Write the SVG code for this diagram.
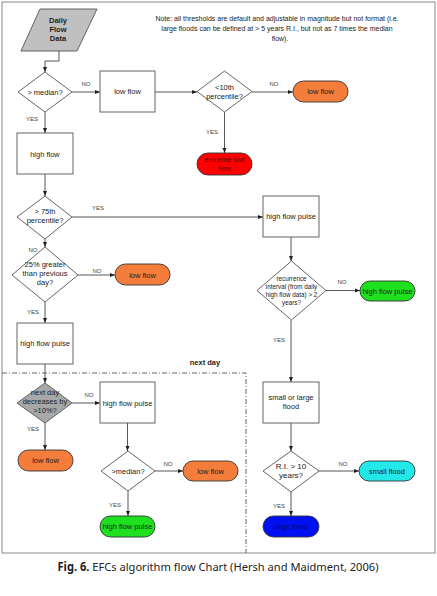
<svg xmlns="http://www.w3.org/2000/svg" width="437" height="596" viewBox="0 0 437 596">
<style>
text{font-family:"Liberation Sans",Arial,sans-serif;fill:#222;}
.t{font-size:7.5px;text-anchor:middle;}
.s{font-size:6.3px;text-anchor:middle;}
.lbl{font-size:6px;fill:#444;text-anchor:middle;}
.box{fill:#fff;stroke:#555;stroke-width:0.9;}
.dia{fill:#fff;stroke:#555;stroke-width:0.9;}
.term{stroke:#333;stroke-width:0.9;}
.ln{fill:none;stroke:#444;stroke-width:0.9;}
.arr{fill:none;stroke:#444;stroke-width:0.9;marker-end:url(#ah);}
</style>
<defs>
<marker id="ah" viewBox="0 0 10 10" refX="10" refY="5" markerWidth="5" markerHeight="5" orient="auto" markerUnits="userSpaceOnUse"><path d="M0,1 L10,5 L0,9 Z" fill="#222"/></marker>
</defs>
<rect x="0" y="0" width="437" height="596" fill="#fff"/>
<rect x="2" y="2" width="433" height="551" fill="#fff" stroke="#888" stroke-width="1"/>
<path d="M2,373 H246 V553" fill="none" stroke="#555" stroke-width="0.9" stroke-dasharray="5,2,1,2"/>
<text x="205" y="365" style="font-size:7.5px;font-weight:bold;text-anchor:middle">next day</text>
<g id="note">
<text class="t" x="277" y="21" style="font-size:7px">Note: all thresholds are default and adjustable in magnitude but not format (i.e.</text>
<text class="t" x="277" y="31" style="font-size:7px">large floods can be defined at &gt; 5 years R.I., but not as 7 times the median</text>
<text class="t" x="280" y="41" style="font-size:7px">flow).</text>
</g>
<g id="connectors">
<path class="arr" d="M59,51 V61 H45 V72"/>
<path class="arr" d="M72,92 H100"/>
<path class="arr" d="M45,112 V133"/>
<path class="arr" d="M155,92 H197"/>
<path class="arr" d="M252,92 H293"/>
<path class="arr" d="M224.5,112 V153"/>
<path class="arr" d="M45,174 V196"/>
<path class="arr" d="M72,217 H263"/>
<path class="arr" d="M45,239 V247"/>
<path class="arr" d="M78,275 H115"/>
<path class="arr" d="M45,302 V323"/>
<path class="arr" d="M45,364 V383"/>
<path class="arr" d="M72,403 H100"/>
<path class="arr" d="M45,423 V450"/>
<path class="arr" d="M127.5,423 V451"/>
<path class="arr" d="M155,471 H183"/>
<path class="arr" d="M128,491 V516"/>
<path class="arr" d="M291,237 V261"/>
<path class="arr" d="M326,290.5 H360"/>
<path class="arr" d="M291,320 V382"/>
<path class="arr" d="M291,423 V451"/>
<path class="arr" d="M319,471 H359"/>
<path class="arr" d="M291,492 V516"/>
<text class="lbl" x="86" y="86">NO</text>
<text class="lbl" x="32" y="121">YES</text>
<text class="lbl" x="274" y="86">NO</text>
<text class="lbl" x="212" y="134">YES</text>
<text class="lbl" x="98" y="210">YES</text>
<text class="lbl" x="33" y="252">NO</text>
<text class="lbl" x="97" y="273">NO</text>
<text class="lbl" x="33" y="314">YES</text>
<text class="lbl" x="89" y="397">NO</text>
<text class="lbl" x="33" y="431">YES</text>
<text class="lbl" x="168" y="466">NO</text>
<text class="lbl" x="115" y="507">YES</text>
<text class="lbl" x="342" y="284">NO</text>
<text class="lbl" x="279" y="342">YES</text>
<text class="lbl" x="343" y="466">NO</text>
<text class="lbl" x="279" y="508">YES</text>
</g>
<g id="daily-flow-data">
<path d="M40,9 H97 L77,51 H21 Z" fill="#c0c0c0" stroke="#555" stroke-width="0.9"/>
<text class="t" x="58" y="23" style="font-weight:bold">Daily</text>
<text class="t" x="58" y="32" style="font-weight:bold">Flow</text>
<text class="t" x="58" y="41" style="font-weight:bold">Data</text>
</g>
<g id="d-median">
<path class="dia" d="M45,72 L72,92 L45,112 L18,92 Z"/>
<text class="t" x="45" y="94.5">&gt; median?</text>
</g>
<g id="low-flow-box">
<rect class="box" x="100" y="71" width="55" height="41"/>
<text class="t" x="127.5" y="94">low flow</text>
</g>
<g id="d-10th">
<path class="dia" d="M224.5,71 L252,91.5 L224.5,112 L197,91.5 Z"/>
<text class="t" x="224.5" y="90">&lt;10th</text>
<text class="t" x="224.5" y="98.5">percentile?</text>
</g>
<g id="t-low-flow-1">
<rect class="term" x="293" y="81" width="55" height="21" rx="10.5" fill="#f47d3c"/>
<text class="t" x="320.5" y="94">low flow</text>
</g>
<g id="t-extreme-low">
<rect class="term" x="197" y="153" width="55" height="22" rx="11" fill="#f00"/>
<text class="t" x="224.5" y="162" style="fill:#600">extreme low</text>
<text class="t" x="224.5" y="170.5" style="fill:#600">flow</text>
</g>
<g id="high-flow">
<rect class="box" x="17" y="133" width="56" height="41"/>
<text class="t" x="45" y="156.5">high flow</text>
</g>
<g id="d-75th">
<path class="dia" d="M45,196 L72,217 L45,239 L17,217 Z"/>
<text class="t" x="45" y="214">&gt; 75th</text>
<text class="t" x="45" y="223">percentile?</text>
</g>
<g id="d-25pct">
<path class="dia" d="M45,247 L78,275 L45,302 L12,275 Z"/>
<text class="t" x="45" y="267">25% greater</text>
<text class="t" x="45" y="276">than previous</text>
<text class="t" x="45" y="285">day?</text>
</g>
<g id="t-low-flow-2">
<rect class="term" x="115" y="264" width="55" height="21" rx="10.5" fill="#f47d3c"/>
<text class="t" x="142.5" y="277.5">low flow</text>
</g>
<g id="high-flow-pulse-1">
<rect class="box" x="17" y="323" width="56" height="41"/>
<text class="t" x="45" y="346">high flow pulse</text>
</g>
<g id="d-next-day">
<path d="M45,383 L72,403 L45,423 L17,403 Z" fill="#a8a8a8" stroke="#555" stroke-width="0.9"/>
<text class="t" x="45" y="395">next day</text>
<text class="t" x="45" y="404">decreases by</text>
<text class="t" x="45" y="413">&gt;10%?</text>
</g>
<g id="high-flow-pulse-2">
<rect class="box" x="100" y="382" width="55" height="41"/>
<text class="t" x="127.5" y="405.5">high flow pulse</text>
</g>
<g id="t-low-flow-3">
<rect class="term" x="18" y="450" width="55" height="21" rx="10.5" fill="#f47d3c"/>
<text class="t" x="45.5" y="463">low flow</text>
</g>
<g id="d-median-2">
<path class="dia" d="M128,451 L155,471 L128,491 L101,471 Z"/>
<text class="t" x="128" y="473.5">&gt;median?</text>
</g>
<g id="t-low-flow-4">
<rect class="term" x="183" y="461" width="55" height="20" rx="10" fill="#f47d3c"/>
<text class="t" x="210.5" y="473.5">low flow</text>
</g>
<g id="t-hfp-green-1">
<rect class="term" x="100" y="516" width="55" height="21" rx="10.5" fill="#1ee01e"/>
<text class="t" x="127.5" y="529">high flow pulse</text>
</g>
<g id="high-flow-pulse-3">
<rect class="box" x="263" y="196" width="56" height="41"/>
<text class="t" x="291" y="219">high flow pulse</text>
</g>
<g id="d-recurrence">
<path class="dia" d="M291.5,261 L326,290.5 L291.5,320 L257,290.5 Z"/>
<text class="s" x="291.5" y="281">recurrence</text>
<text class="s" x="291.5" y="289">interval (from daily</text>
<text class="s" x="291.5" y="297">high flow data) &gt; 2</text>
<text class="s" x="291.5" y="304.5">years?</text>
</g>
<g id="t-hfp-green-2">
<rect class="term" x="360" y="281" width="55" height="20" rx="10" fill="#1ee01e"/>
<text class="t" x="387.5" y="293.5">high flow pulse</text>
</g>
<g id="small-or-large">
<rect class="box" x="263" y="382" width="56" height="41"/>
<text class="t" x="291" y="400">small or large</text>
<text class="t" x="291" y="409">flood</text>
</g>
<g id="d-ri">
<path class="dia" d="M291,451 L319,471 L291,492 L263,471 Z"/>
<text class="t" x="291" y="469" style="font-size:8px">R.I. &gt; 10</text>
<text class="t" x="291" y="478" style="font-size:8px">years?</text>
</g>
<g id="t-small-flood">
<rect class="term" x="359" y="461" width="56" height="20" rx="10" fill="#22e8e8"/>
<text class="t" x="387" y="473.5">small flood</text>
</g>
<g id="t-large-flood">
<rect class="term" x="263" y="516" width="56" height="21" rx="10.5" fill="#0010f0"/>
<text class="t" x="291" y="529" style="fill:#000a80">large flood</text>
</g>
<text x="218" y="571" style="font-family:'Noto Sans','Open Sans',sans-serif;font-size:11.5px;text-anchor:middle" textLength="321" lengthAdjust="spacingAndGlyphs"><tspan style="font-weight:bold">Fig. 6.</tspan> EFCs algorithm flow Chart (Hersh and Maidment, 2006)</text>
</svg>
